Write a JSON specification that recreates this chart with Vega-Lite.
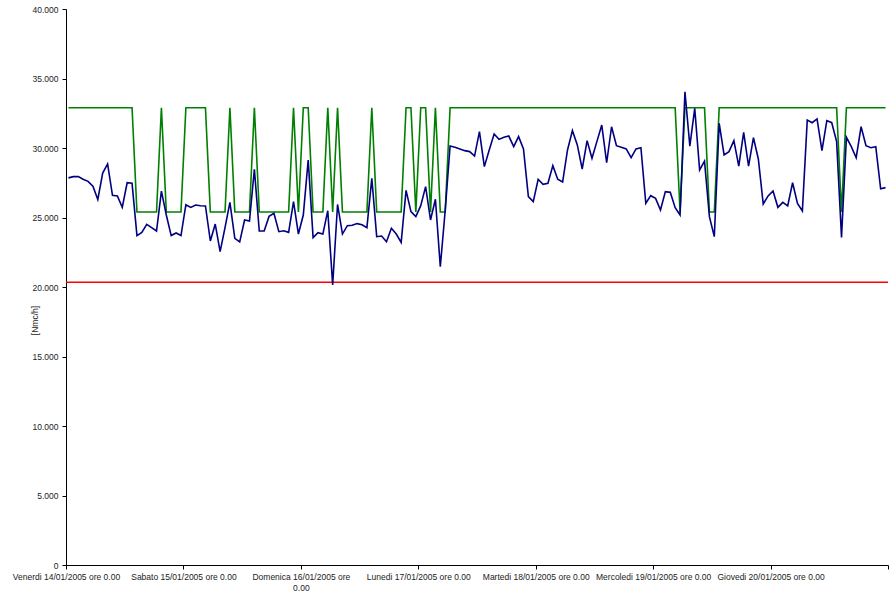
{
  "$schema": "https://vega.github.io/schema/vega-lite/v6.json",
  "width": 822,
  "height": 556,
  "autosize": "none",
  "padding": {"left": 66, "top": 9, "right": 3, "bottom": 27},
  "background": "white",
  "config": {
    "view": {"stroke": null},
    "font": "Liberation Sans",
    "locale": {"number": {"decimal": ",", "thousands": ".", "grouping": [3], "currency": ["€", ""]}},
    "axis": {"grid": false, "domainColor": "#000", "tickColor": "#000", "labelColor": "#222", "labelFont": "Liberation Sans", "labelFontSize": 8.5, "titleFont": "Liberation Sans", "titleFontSize": 8.5, "titleFontWeight": "normal", "titleColor": "#222", "domainWidth": 1, "tickWidth": 1}
  },
  "datasets": {
    "serie": [
      {"t":"2005-01-14T00:30","q":27850,"s":32900},{"t":"2005-01-14T01:30","q":27940,"s":32900},{"t":"2005-01-14T02:30","q":27940,"s":32900},{"t":"2005-01-14T03:30","q":27750,"s":32900},{"t":"2005-01-14T04:30","q":27600,"s":32900},{"t":"2005-01-14T05:30","q":27250,"s":32900},{"t":"2005-01-14T06:30","q":26300,"s":32900},{"t":"2005-01-14T07:30","q":28200,"s":32900},{"t":"2005-01-14T08:30","q":28850,"s":32900},{"t":"2005-01-14T09:30","q":26600,"s":32900},{"t":"2005-01-14T10:30","q":26550,"s":32900},{"t":"2005-01-14T11:30","q":25730,"s":32900},{"t":"2005-01-14T12:30","q":27500,"s":32900},{"t":"2005-01-14T13:30","q":27460,"s":32900},{"t":"2005-01-14T14:30","q":23700,"s":25400},{"t":"2005-01-14T15:30","q":23930,"s":25400},{"t":"2005-01-14T16:30","q":24510,"s":25400},{"t":"2005-01-14T17:30","q":24270,"s":25400},{"t":"2005-01-14T18:30","q":24030,"s":25400},{"t":"2005-01-14T19:30","q":26900,"s":32900},{"t":"2005-01-14T20:30","q":25180,"s":25400},{"t":"2005-01-14T21:30","q":23700,"s":25400},{"t":"2005-01-14T22:30","q":23890,"s":25400},{"t":"2005-01-14T23:30","q":23700,"s":25400},
      {"t":"2005-01-15T00:30","q":25920,"s":32900},{"t":"2005-01-15T01:30","q":25730,"s":32900},{"t":"2005-01-15T02:30","q":25900,"s":32900},{"t":"2005-01-15T03:30","q":25850,"s":32900},{"t":"2005-01-15T04:30","q":25830,"s":32900},{"t":"2005-01-15T05:30","q":23310,"s":25400},{"t":"2005-01-15T06:30","q":24530,"s":25400},{"t":"2005-01-15T07:30","q":22540,"s":25400},{"t":"2005-01-15T08:30","q":24270,"s":25400},{"t":"2005-01-15T09:30","q":26090,"s":32900},{"t":"2005-01-15T10:30","q":23500,"s":25400},{"t":"2005-01-15T11:30","q":23240,"s":25400},{"t":"2005-01-15T12:30","q":24820,"s":25400},{"t":"2005-01-15T13:30","q":24750,"s":25400},{"t":"2005-01-15T14:30","q":28470,"s":32900},{"t":"2005-01-15T15:30","q":24030,"s":25400},{"t":"2005-01-15T16:30","q":24030,"s":25400},{"t":"2005-01-15T17:30","q":25080,"s":25400},{"t":"2005-01-15T18:30","q":25300,"s":25400},{"t":"2005-01-15T19:30","q":23980,"s":25400},{"t":"2005-01-15T20:30","q":24050,"s":25400},{"t":"2005-01-15T21:30","q":23930,"s":25400},{"t":"2005-01-15T22:30","q":26140,"s":32900},{"t":"2005-01-15T23:30","q":23810,"s":25400},
      {"t":"2005-01-16T00:30","q":25180,"s":32900},{"t":"2005-01-16T01:30","q":29140,"s":32900},{"t":"2005-01-16T02:30","q":23550,"s":25400},{"t":"2005-01-16T03:30","q":23910,"s":25400},{"t":"2005-01-16T04:30","q":23810,"s":25400},{"t":"2005-01-16T05:30","q":25490,"s":32900},{"t":"2005-01-16T06:30","q":20140,"s":25400},{"t":"2005-01-16T07:30","q":25940,"s":32900},{"t":"2005-01-16T08:30","q":23810,"s":25400},{"t":"2005-01-16T09:30","q":24410,"s":25400},{"t":"2005-01-16T10:30","q":24440,"s":25400},{"t":"2005-01-16T11:30","q":24560,"s":25400},{"t":"2005-01-16T12:30","q":24480,"s":25400},{"t":"2005-01-16T13:30","q":24270,"s":25400},{"t":"2005-01-16T14:30","q":27820,"s":32900},{"t":"2005-01-16T15:30","q":23620,"s":25400},{"t":"2005-01-16T16:30","q":23670,"s":25400},{"t":"2005-01-16T17:30","q":23260,"s":25400},{"t":"2005-01-16T18:30","q":24220,"s":25400},{"t":"2005-01-16T19:30","q":23810,"s":25400},{"t":"2005-01-16T20:30","q":23210,"s":25400},{"t":"2005-01-16T21:30","q":26950,"s":32900},{"t":"2005-01-16T22:30","q":25420,"s":32900},{"t":"2005-01-16T23:30","q":25060,"s":25400},
      {"t":"2005-01-17T00:30","q":25850,"s":32900},{"t":"2005-01-17T01:30","q":27220,"s":32900},{"t":"2005-01-17T02:30","q":24820,"s":25400},{"t":"2005-01-17T03:30","q":26310,"s":32900},{"t":"2005-01-17T04:30","q":21460,"s":25400},{"t":"2005-01-17T05:30","q":25500,"s":25400},{"t":"2005-01-17T06:30","q":30140,"s":32900},{"t":"2005-01-17T07:30","q":30050,"s":32900},{"t":"2005-01-17T08:30","q":29930,"s":32900},{"t":"2005-01-17T09:30","q":29810,"s":32900},{"t":"2005-01-17T10:30","q":29740,"s":32900},{"t":"2005-01-17T11:30","q":29420,"s":32900},{"t":"2005-01-17T12:30","q":31180,"s":32900},{"t":"2005-01-17T13:30","q":28660,"s":32900},{"t":"2005-01-17T14:30","q":29860,"s":32900},{"t":"2005-01-17T15:30","q":31010,"s":32900},{"t":"2005-01-17T16:30","q":30620,"s":32900},{"t":"2005-01-17T17:30","q":30770,"s":32900},{"t":"2005-01-17T18:30","q":30860,"s":32900},{"t":"2005-01-17T19:30","q":30100,"s":32900},{"t":"2005-01-17T20:30","q":30820,"s":32900},{"t":"2005-01-17T21:30","q":29930,"s":32900},{"t":"2005-01-17T22:30","q":26500,"s":32900},{"t":"2005-01-17T23:30","q":26140,"s":32900},
      {"t":"2005-01-18T00:30","q":27750,"s":32900},{"t":"2005-01-18T01:30","q":27390,"s":32900},{"t":"2005-01-18T02:30","q":27460,"s":32900},{"t":"2005-01-18T03:30","q":28730,"s":32900},{"t":"2005-01-18T04:30","q":27750,"s":32900},{"t":"2005-01-18T05:30","q":27550,"s":32900},{"t":"2005-01-18T06:30","q":29860,"s":32900},{"t":"2005-01-18T07:30","q":31250,"s":32900},{"t":"2005-01-18T08:30","q":30220,"s":32900},{"t":"2005-01-18T09:30","q":28490,"s":32900},{"t":"2005-01-18T10:30","q":30530,"s":32900},{"t":"2005-01-18T11:30","q":29260,"s":32900},{"t":"2005-01-18T12:30","q":30460,"s":32900},{"t":"2005-01-18T13:30","q":31650,"s":32900},{"t":"2005-01-18T14:30","q":28940,"s":32900},{"t":"2005-01-18T15:30","q":31530,"s":32900},{"t":"2005-01-18T16:30","q":30170,"s":32900},{"t":"2005-01-18T17:30","q":30050,"s":32900},{"t":"2005-01-18T18:30","q":29930,"s":32900},{"t":"2005-01-18T19:30","q":29300,"s":32900},{"t":"2005-01-18T20:30","q":29930,"s":32900},{"t":"2005-01-18T21:30","q":30020,"s":32900},{"t":"2005-01-18T22:30","q":26020,"s":32900},{"t":"2005-01-18T23:30","q":26570,"s":32900},
      {"t":"2005-01-19T00:30","q":26380,"s":32900},{"t":"2005-01-19T01:30","q":25540,"s":32900},{"t":"2005-01-19T02:30","q":26860,"s":32900},{"t":"2005-01-19T03:30","q":26810,"s":32900},{"t":"2005-01-19T04:30","q":25710,"s":32900},{"t":"2005-01-19T05:30","q":25180,"s":25400},{"t":"2005-01-19T06:30","q":34050,"s":32900},{"t":"2005-01-19T07:30","q":30140,"s":32900},{"t":"2005-01-19T08:30","q":32850,"s":32900},{"t":"2005-01-19T09:30","q":28420,"s":32900},{"t":"2005-01-19T10:30","q":29060,"s":32900},{"t":"2005-01-19T11:30","q":25060,"s":25400},{"t":"2005-01-19T12:30","q":23620,"s":25400},{"t":"2005-01-19T13:30","q":31770,"s":32900},{"t":"2005-01-19T14:30","q":29500,"s":32900},{"t":"2005-01-19T15:30","q":29740,"s":32900},{"t":"2005-01-19T16:30","q":30530,"s":32900},{"t":"2005-01-19T17:30","q":28700,"s":32900},{"t":"2005-01-19T18:30","q":31130,"s":32900},{"t":"2005-01-19T19:30","q":28700,"s":32900},{"t":"2005-01-19T20:30","q":30740,"s":32900},{"t":"2005-01-19T21:30","q":29210,"s":32900},{"t":"2005-01-19T22:30","q":25970,"s":32900},{"t":"2005-01-19T23:30","q":26550,"s":32900},
      {"t":"2005-01-20T00:30","q":26910,"s":32900},{"t":"2005-01-20T01:30","q":25730,"s":32900},{"t":"2005-01-20T02:30","q":26090,"s":32900},{"t":"2005-01-20T03:30","q":25830,"s":32900},{"t":"2005-01-20T04:30","q":27500,"s":32900},{"t":"2005-01-20T05:30","q":26020,"s":32900},{"t":"2005-01-20T06:30","q":25470,"s":32900},{"t":"2005-01-20T07:30","q":32010,"s":32900},{"t":"2005-01-20T08:30","q":31820,"s":32900},{"t":"2005-01-20T09:30","q":32090,"s":32900},{"t":"2005-01-20T10:30","q":29810,"s":32900},{"t":"2005-01-20T11:30","q":31970,"s":32900},{"t":"2005-01-20T12:30","q":31820,"s":32900},{"t":"2005-01-20T13:30","q":30460,"s":32900},{"t":"2005-01-20T14:30","q":23570,"s":25400},{"t":"2005-01-20T15:30","q":30770,"s":32900},{"t":"2005-01-20T16:30","q":30100,"s":32900},{"t":"2005-01-20T17:30","q":29300,"s":32900},{"t":"2005-01-20T18:30","q":31530,"s":32900},{"t":"2005-01-20T19:30","q":30170,"s":32900},{"t":"2005-01-20T20:30","q":30020,"s":32900},{"t":"2005-01-20T21:30","q":30100,"s":32900},{"t":"2005-01-20T22:30","q":27070,"s":32900},{"t":"2005-01-20T23:30","q":27150,"s":32900}
    ],
    "limite": [{"v": 20350}]
  },
  "layer": [
    {
      "data": {"name": "limite"},
      "mark": {"type": "rule", "color": "#ff0000", "strokeWidth": 1.5},
      "encoding": {"y": {"field": "v", "type": "quantitative", "scale": {"domain": [0, 40000]}}}
    },
    {
      "data": {"name": "serie"},
      "mark": {"type": "line", "color": "#008000", "strokeWidth": 1.6},
      "encoding": {
        "x": {"field": "t", "type": "temporal"},
        "y": {"field": "s", "type": "quantitative"}
      }
    },
    {
      "data": {"name": "serie"},
      "mark": {"type": "line", "color": "#000080", "strokeWidth": 1.6},
      "encoding": {
        "x": {
          "field": "t", "type": "temporal",
          "scale": {"domain": [{"year": 2005, "month": 1, "date": 14}, {"year": 2005, "month": 1, "date": 21}]},
          "axis": {
            "title": null,
            "values": [{"year": 2005, "month": 1, "date": 14}, {"year": 2005, "month": 1, "date": 15}, {"year": 2005, "month": 1, "date": 16}, {"year": 2005, "month": 1, "date": 17}, {"year": 2005, "month": 1, "date": 18}, {"year": 2005, "month": 1, "date": 19}, {"year": 2005, "month": 1, "date": 20}, {"year": 2005, "month": 1, "date": 21}],
            "labelExpr": "date(datum.value) == 21 ? '' : (day(datum.value) == 0 ? ['Domenica ' + timeFormat(datum.value, '%d/%m/%Y') + ' ore', '0.00'] : ['Domenica','Lunedi','Martedi','Mercoledi','Giovedi','Venerdi','Sabato'][day(datum.value)] + ' ' + timeFormat(datum.value, '%d/%m/%Y') + ' ore 0.00')",
            "labelOverlap": false,
            "labelFlush": false,
            "labelBound": false,
            "tickSize": 4,
            "labelPadding": 3,
            "labelLineHeight": 11,
            "labelBaseline": "top"
          }
        },
        "y": {
          "field": "q", "type": "quantitative",
          "scale": {"domain": [0, 40000]},
          "axis": {
            "title": "[Nmc/h]",
            "values": [0, 5000, 10000, 15000, 20000, 25000, 30000, 35000, 40000],
            "format": ",d",
            "tickSize": 4,
            "labelPadding": 4,
            "titleX": -32,
            "titleY": 311,
            "titleAngle": -90,
            "titleAlign": "center",
            "titleBaseline": "middle"
          }
        }
      }
    }
  ]
}
